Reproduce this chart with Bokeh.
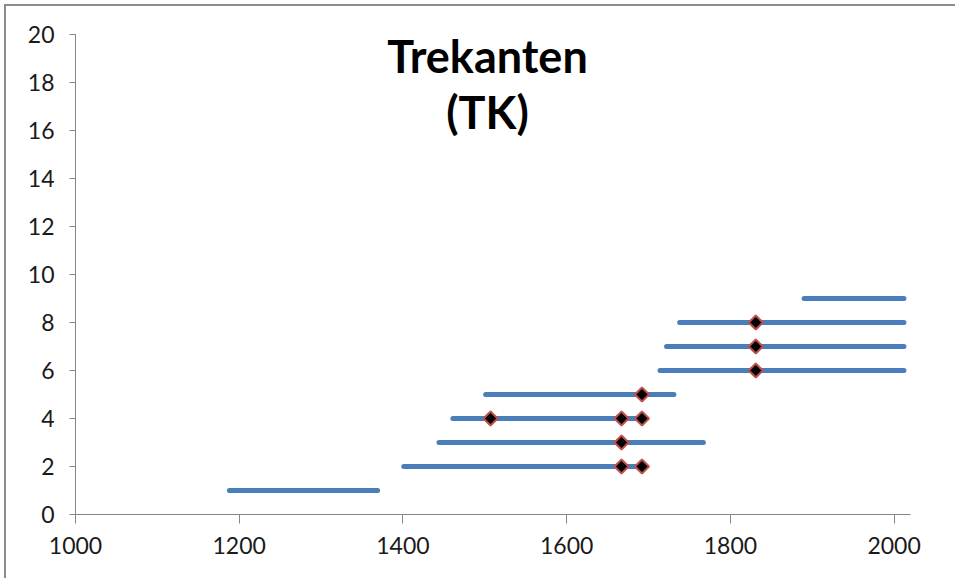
import math

from bokeh.plotting import figure
from bokeh.models import ColumnDataSource, Label, FixedTicker, Range1d
from bokeh.embed import file_html
from bokeh.resources import INLINE

# Time spans (start year, end year) per row, and marked events
row = [1, 2, 3, 4, 5, 6, 7, 8, 9]
start = [1188, 1401, 1444, 1461, 1501, 1714, 1722, 1738, 1890]
end = [1369, 1692, 1767, 1692, 1731, 2012, 2012, 2012, 2012]

event_year = [1667, 1692, 1667, 1507, 1667, 1692, 1692, 1831, 1831, 1831]
event_row = [2, 2, 3, 4, 4, 4, 5, 6, 7, 8]

x_ticks = [1000, 1200, 1400, 1600, 1800, 2000]
y_ticks = [0, 2, 4, 6, 8, 10, 12, 14, 16, 18, 20]

AXIS = "#868686"
FONT = "Lato"

p = figure(
    width=951, height=574,
    x_range=Range1d(1000, 2020), y_range=Range1d(0, 20),
    output_backend="svg", toolbar_location=None,
    min_border_left=69, min_border_right=47,
    min_border_top=28, min_border_bottom=66,
    background_fill_color="white", border_fill_color="white",
    outline_line_color=None,
)
p.styles = {
    "margin-left": "4px", "margin-top": "4px",
    "border-left": "2px solid #8c8c8c", "border-top": "2px solid #8c8c8c",
}

p.xgrid.visible = False
p.ygrid.visible = False

seg = ColumnDataSource(dict(x0=start, x1=end, y=row))
p.segment(x0="x0", y0="y", x1="x1", y1="y", source=seg,
          line_color="#4A7EBB", line_width=5, line_cap="round")

# diamonds drawn as squares turned by 45 degrees
ev = ColumnDataSource(dict(x=event_year, y=event_row))
p.scatter(x="x", y="y", source=ev, marker="square", size=10,
          angle=math.pi / 4,
          fill_color="black", line_color="#C0504D", line_width=2)

for ax, ticks in ((p.xaxis, x_ticks), (p.yaxis, y_ticks)):
    ax.ticker = FixedTicker(ticks=ticks)
    ax.axis_line_color = AXIS
    ax.major_tick_line_color = AXIS
    ax.minor_tick_line_color = None
    ax.major_tick_in = 0
    ax.major_label_text_font = FONT
    ax.major_label_text_font_size = "23px"
    ax.major_label_text_color = "#1a1a1a"

p.xaxis.major_tick_out = 9
p.yaxis.major_tick_out = 6
p.xaxis.major_label_standoff = 13
p.yaxis.major_label_standoff = 15

p.add_layout(Label(x=412, y=459, x_units="screen", y_units="screen",
                   text="Trekanten", text_align="center",
                   text_baseline="alphabetic", text_font=FONT,
                   text_font_style="bold", text_font_size="45px",
                   text_color="black"))
p.add_layout(Label(x=412, y=403, x_units="screen", y_units="screen",
                   text="(TK)", text_align="center",
                   text_baseline="alphabetic", text_font=FONT,
                   text_font_style="bold", text_font_size="45px",
                   text_color="black"))

open("out.html", "w").write(file_html(p, INLINE))
